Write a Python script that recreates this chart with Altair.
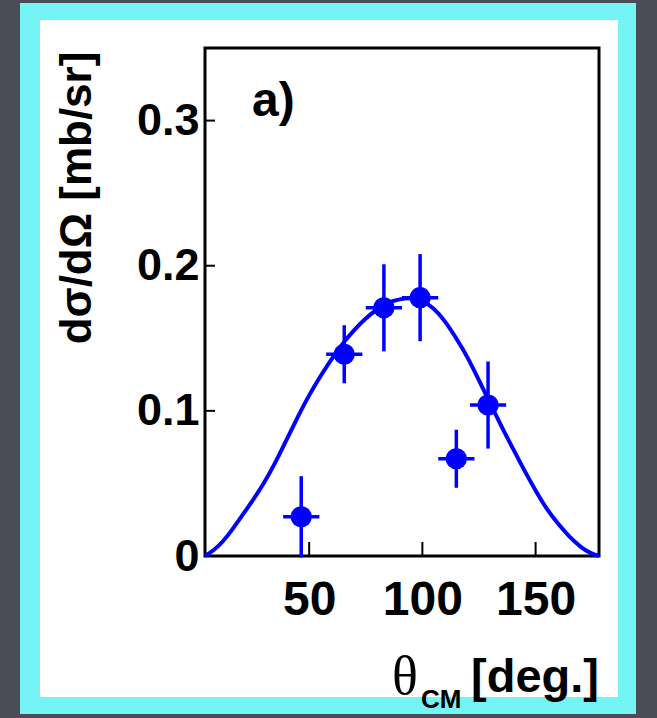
import altair as alt
import pandas as pd

# measured data points
theta_pts = [46.5, 65.5, 83.0, 99.0, 115.0, 129.0]
xsec_pts = [0.027, 0.139, 0.171, 0.178, 0.067, 0.104]
xsec_err = [0.028, 0.020, 0.030, 0.030, 0.020, 0.030]
theta_err = [8.0, 8.0, 8.0, 8.0, 8.0, 8.0]

# fitted curve
curve_theta = [4, 8, 12, 16, 20, 25, 30, 35, 40, 45, 50, 55, 60, 65, 70, 75, 80, 85, 90, 95,
               100, 105, 110, 115, 120, 125, 130, 135, 140, 145, 150, 155, 160, 165, 170, 174, 178]
curve_vals = [0.0, 0.004, 0.010, 0.018, 0.027, 0.038, 0.050, 0.064, 0.080, 0.096, 0.111, 0.124,
              0.136, 0.147, 0.156, 0.164, 0.170, 0.175, 0.177, 0.178, 0.176, 0.171, 0.162, 0.150,
              0.137, 0.121, 0.105, 0.089, 0.074, 0.059, 0.045, 0.032, 0.022, 0.013, 0.006, 0.002, 0.0]

x_ticks = [50, 100, 150]
y_ticks = [0.1, 0.2, 0.3]

X_DOMAIN = [4, 178]
Y_DOMAIN = [0, 0.35]

W, H = 394, 508
BLUE = "#0000ff"

pts = pd.DataFrame({
    "theta": theta_pts,
    "xs": xsec_pts,
    "lo": [v - e for v, e in zip(xsec_pts, xsec_err)],
    "hi": [v + e for v, e in zip(xsec_pts, xsec_err)],
    "tlo": [t - e for t, e in zip(theta_pts, theta_err)],
    "thi": [t + e for t, e in zip(theta_pts, theta_err)],
})
curve = pd.DataFrame({"theta": curve_theta, "xs": curve_vals})

xs = alt.Scale(domain=X_DOMAIN, nice=False, zero=False)
ys = alt.Scale(domain=Y_DOMAIN, nice=False, zero=False)

xaxis = alt.Axis(values=x_ticks, ticks=False, domain=False, grid=False, labelPadding=20,
                 labelFontSize=48, labelFontWeight="bold", labelFont="Liberation Sans",
                 labelColor="black", title=None, zindex=1)
yaxis = alt.Axis(values=[0] + y_ticks, ticks=False, domain=False, grid=False, labelPadding=6,
                 labelFontSize=45, labelFontWeight="bold", labelFont="Liberation Sans",
                 labelColor="black", title=None, zindex=1,
                 labelExpr="datum.value == 0 ? '0' : format(datum.value, '.1f')")

base_df = pd.DataFrame({"k": [0]})

# decorative frame (cyan border and white card)
cyan = alt.Chart(base_df).mark_rect(color="#74f4f4").encode(
    x=alt.value(-185), x2=alt.value(431), y=alt.value(-45), y2=alt.value(666))
white = alt.Chart(base_df).mark_rect(color="white").encode(
    x=alt.value(-165), x2=alt.value(413), y=alt.value(-28), y2=alt.value(649))
box = alt.Chart(base_df).mark_rect(fillOpacity=0, stroke="black", strokeWidth=3).encode(
    x=alt.value(0), x2=alt.value(W), y=alt.value(0), y2=alt.value(H))

line = alt.Chart(curve).mark_line(color=BLUE, strokeWidth=4, interpolate="basis").encode(
    x=alt.X("theta:Q", scale=xs, axis=xaxis),
    y=alt.Y("xs:Q", scale=ys, axis=yaxis),
)

ebar_v = alt.Chart(pts).mark_rule(color=BLUE, strokeWidth=3.5).encode(
    x=alt.X("theta:Q", scale=xs), y=alt.Y("lo:Q", scale=ys), y2="hi:Q")
ebar_h = alt.Chart(pts).mark_rule(color=BLUE, strokeWidth=3.5).encode(
    x=alt.X("tlo:Q", scale=xs), x2="thi:Q", y=alt.Y("xs:Q", scale=ys))
dots = alt.Chart(pts).mark_circle(color=BLUE, opacity=1, size=450).encode(
    x=alt.X("theta:Q", scale=xs), y=alt.Y("xs:Q", scale=ys))

xt = alt.Chart(pd.DataFrame({"t": x_ticks})).mark_rule(color="black", strokeWidth=2).encode(
    x=alt.X("t:Q", scale=xs), y=alt.value(H), y2=alt.value(H - 14))
yt = alt.Chart(pd.DataFrame({"t": y_ticks})).mark_rule(color="black", strokeWidth=2).encode(
    y=alt.Y("t:Q", scale=ys), x=alt.value(0), x2=alt.value(10))

label_a = alt.Chart(base_df).mark_text(text="a)", font="Liberation Sans", fontWeight="bold",
                                       fontSize=48, align="left", baseline="alphabetic",
                                       color="black").encode(x=alt.value(47), y=alt.value(68))

ytitle = alt.Chart(base_df).mark_text(text="dσ/dΩ [mb/sr]", font="Liberation Sans",
                                      fontWeight="bold", fontSize=44, angle=270, align="center",
                                      baseline="middle", color="black").encode(
    x=alt.value(-127), y=alt.value(150))

xt_theta = alt.Chart(base_df).mark_text(text="θ", font="Liberation Serif", fontSize=54,
                                        align="left", baseline="alphabetic", color="black").encode(
    x=alt.value(187), y=alt.value(646))
xt_cm = alt.Chart(base_df).mark_text(text="CM", font="Liberation Sans", fontWeight="bold",
                                     fontSize=26, align="left", baseline="alphabetic",
                                     color="black").encode(x=alt.value(216), y=alt.value(660))
xt_deg = alt.Chart(base_df).mark_text(text="[deg.]", font="Liberation Sans", fontWeight="bold",
                                      fontSize=47, align="right", baseline="alphabetic",
                                      color="black").encode(x=alt.value(394), y=alt.value(644))

chart = alt.layer(cyan, white, box, xt, yt, line, ebar_v, ebar_h, dots, label_a, ytitle,
                  xt_theta, xt_cm, xt_deg).properties(
    width=W, height=H,
    autosize=alt.AutoSizeParams(type="none"),
    padding={"left": 205, "top": 48, "right": 58, "bottom": 162},
    background="#4b4d56",
).configure_view(stroke=None)

chart.save("out.html", embed_options={"renderer": "svg", "actions": False})
